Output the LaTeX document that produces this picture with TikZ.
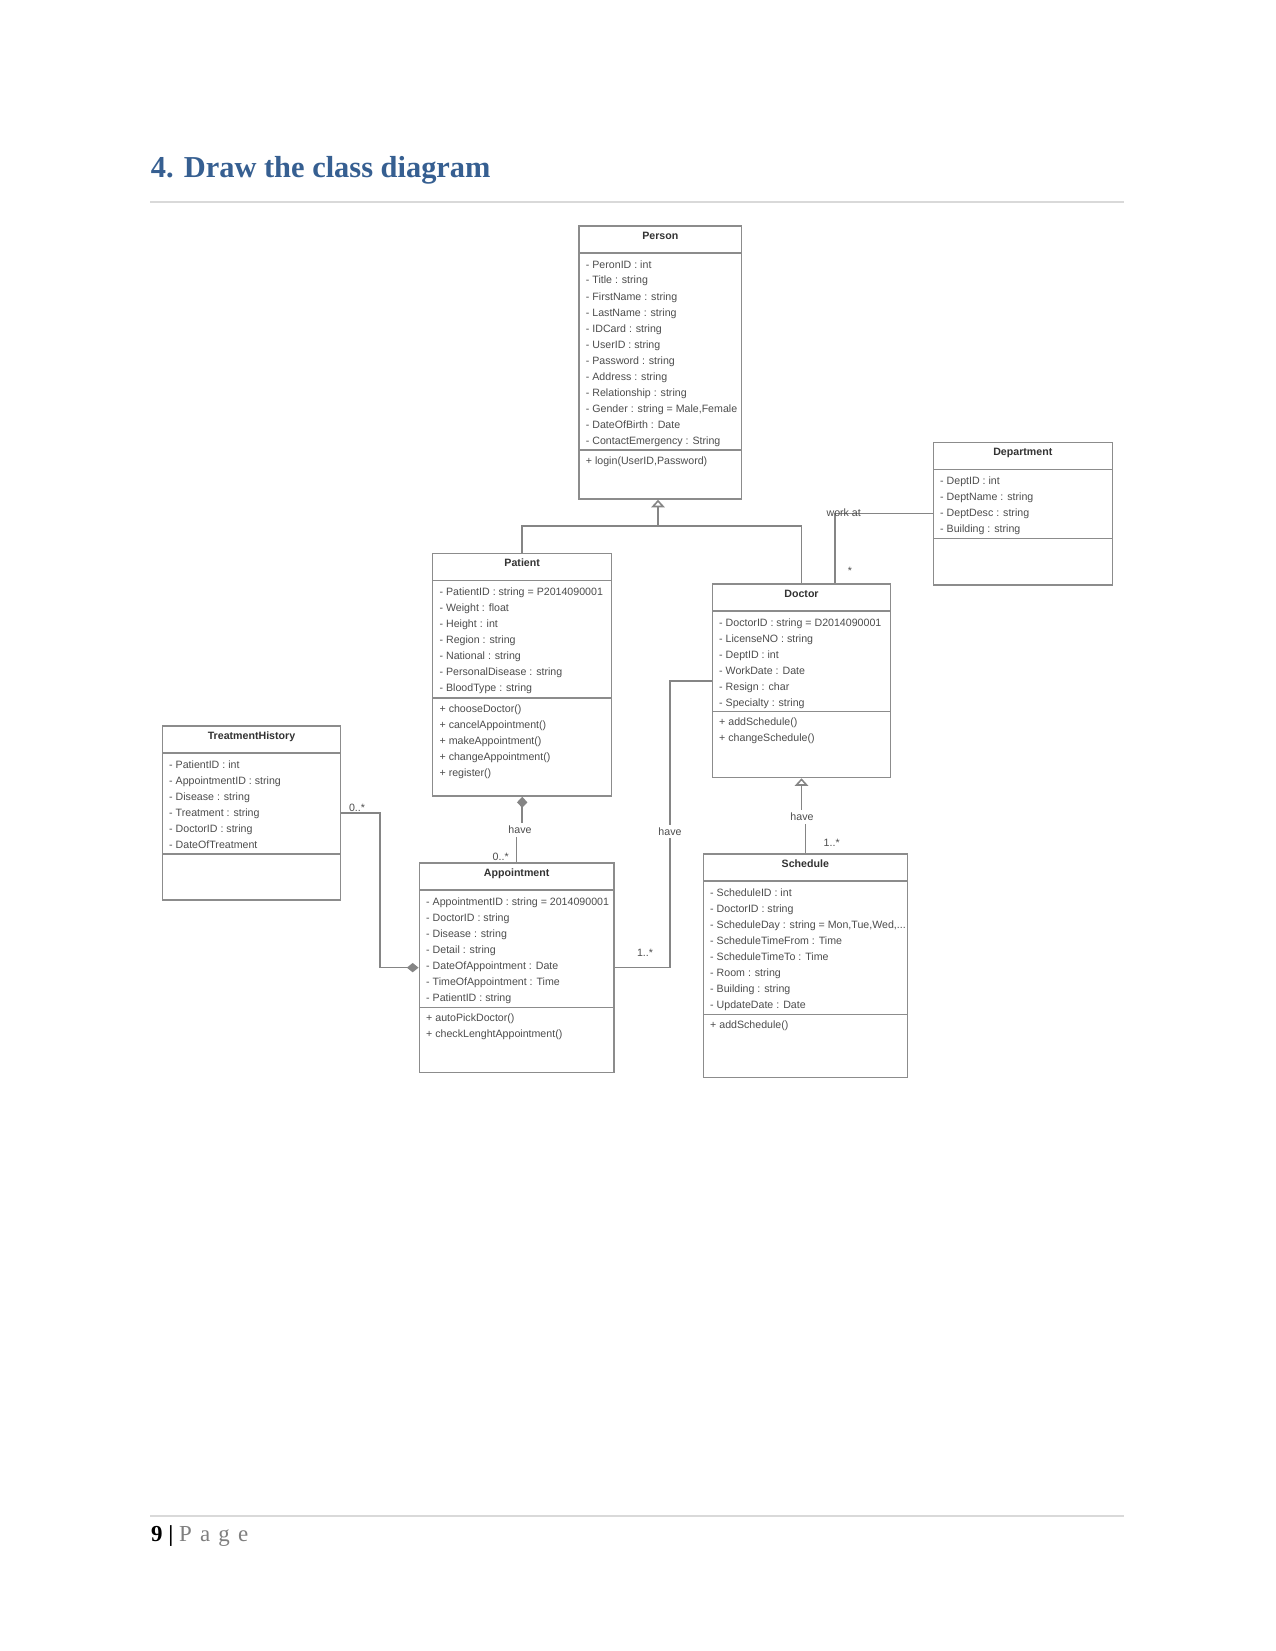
\documentclass[tikz,border=0pt]{standalone}
\usepackage{fontspec}
\setmainfont{Liberation Serif}
\newfontfamily\umlfont{Liberation Sans}
\usetikzlibrary{arrows.meta,fit}
\definecolor{titleblue}{HTML}{365F91}
\definecolor{boxcol}{HTML}{8C8C8C}
\definecolor{conncol}{HTML}{858585}
\definecolor{txtcol}{HTML}{4D4D4D}
\definecolor{headcol}{HTML}{333333}
\definecolor{rulecol}{HTML}{D9D9D9}
\definecolor{pagegray}{HTML}{7F7F7F}
\newcommand{\mydots}{...}
\tikzset{
  classbox/.style={draw=boxcol, line width=0.75pt, inner sep=0pt, fill=white},
  cline/.style={draw=boxcol, line width=0.75pt},
  ctitle/.style={anchor=base, inner sep=0pt, font=\umlfont\bfseries\fontsize{5.1}{6}\selectfont, text=headcol},
  attr/.style={anchor=base west, inner sep=0pt, font=\umlfont\fontsize{5.1}{6}\selectfont, text=txtcol},
  conn/.style={draw=conncol, line width=0.75pt},
  lbl/.style={inner sep=0.6pt, font=\umlfont\fontsize{5.1}{6}\selectfont, text=txtcol},
  onlbl/.style={lbl, fill=white, inner sep=1.2pt},
  gen/.style={-{Triangle[open, length=3.6pt, width=6.4pt]}},
  compend/.style={-{Diamond[length=5.6pt, width=4.5pt]}},
  compstart/.style={{Diamond[length=5.3pt, width=5pt]}-},
}
% name, x1, y1, x2, y2, ysep, title, attributes
\newcommand{\umlclass}[8]{%
  \node[classbox, fit={(#2,#3) (#4,#5)}] (#1) {};
  \draw[cline] (#2,#3+27) -- (#4,#3+27);
  \draw[cline] (#2,#6) -- (#4,#6);
  \node[ctitle] (#1-title) at ({(#2+#4)/2},{#3+13.5}) {#7};
  \foreach \t [count=\i] in {#8}
    \node[attr] (#1-a\i) at ({#2+6.5},{#3+42+(\i-1)*16}) {- \t};
}
% name, x1, ysep, methods
\newcommand{\umlmethods}[4]{%
  \foreach \t [count=\i] in {#4}
    \node[attr] (#1-m\i) at ({#2+6.5},{#3+14+(\i-1)*16}) {+ \t};
}
\begin{document}
\begin{tikzpicture}[x=0.48pt,y=-0.48pt]
\useasboundingbox (0,0) rectangle (1275,1651);
\fill[white] (0,0) rectangle (1275,1651);

% heading and rules
\node[anchor=base west, inner sep=0pt, font=\bfseries\fontsize{14.6}{17}\selectfont, text=titleblue] (title) at (150.5,177.3) {4. Draw the class diagram};
\draw[rulecol, line width=0.7pt] (150,202) -- (1124,202);
\draw[rulecol, line width=0.7pt] (150,1516) -- (1124,1516);
\node[anchor=base west, inner sep=0pt, font=\fontsize{11}{13}\selectfont] (footer) at (150.7,1541.7) {\textbf{9 |} \textcolor{pagegray}{P\hspace{1.2pt} a\hspace{1.2pt} g\hspace{1.2pt} e}};

% classes
\umlclass{person}{579}{226}{741.7}{499}{450}{Person}{PeronID : int, Title : string, FirstName : string, LastName : string, IDCard : string, UserID : string, Password : string, Address : string, Relationship : string, {Gender : string = Male,Female}, DateOfBirth : Date, ContactEmergency : String}
\umlmethods{person}{579}{450}{{login(UserID,Password)}}

\umlclass{patient}{432.7}{553.3}{611.7}{796}{698}{Patient}{PatientID : string = P2014090001, Weight : float, Height : int, Region : string, National : string, PersonalDisease : string, BloodType : string}
\umlmethods{patient}{432.7}{698}{chooseDoctor(), cancelAppointment(), makeAppointment(), changeAppointment(), register()}

\umlclass{doctor}{712.3}{584}{890.7}{777.5}{711.7}{Doctor}{DoctorID : string = D2014090001, LicenseNO : string, DeptID : int, WorkDate : Date, Resign : char, Specialty : string}
\umlmethods{doctor}{712.3}{711.7}{addSchedule(), changeSchedule()}

\umlclass{department}{933.3}{442.3}{1112.3}{585}{538.3}{Department}{DeptID : int, DeptName : string, DeptDesc : string, Building : string}

\umlclass{th}{162.3}{726}{340.7}{900}{854}{TreatmentHistory}{PatientID : int, AppointmentID : string, Disease : string, Treatment : string, DoctorID : string, DateOfTreatment}

\umlclass{appointment}{419.3}{863}{614}{1072.3}{1007.7}{Appointment}{AppointmentID : string = 2014090001, DoctorID : string, Disease : string, Detail : string, DateOfAppointment : Date, TimeOfAppointment : Time, PatientID : string}
\umlmethods{appointment}{419.3}{1007.7}{autoPickDoctor(), checkLenghtAppointment()}

\umlclass{schedule}{703.3}{854}{907.3}{1077.3}{1014.3}{Schedule}{ScheduleID : int, DoctorID : string, {ScheduleDay : string = Mon,Tue,Wed,\mydots}, ScheduleTimeFrom : Time, ScheduleTimeTo : Time, Room : string, Building : string, UpdateDate : Date}
\umlmethods{schedule}{703.3}{1014.3}{addSchedule()}

% generalization Patient/Doctor -> Person
\coordinate (inhjoin) at (658,526);
\draw[conn] (patient.north) |- (inhjoin) -| (doctor.north);
\draw[conn, gen] (inhjoin) -- (inhjoin |- person.south);

% Doctor work at Department
\draw[conn] (department.west) -| (835,0 |- doctor.north);
\node[lbl] (workat) at (843.7,513) {work at};
\node[lbl] (mstar) at (850,571) {*};

% Patient have Appointment
\node[onlbl] (have1) at (520,830) {have};
\draw[conn, compstart] (patient.south) -- (patient.south |- have1.north);
\draw[conn] (appointment.north |- have1.south) -- (appointment.north);
\node[lbl] (m01) at (500.7,857) {0..*};

% Appointment have Doctor
\node[onlbl] (have2) at (670,831.5) {have};
\draw[conn] (appointment.east) -| (have2.south);
\draw[conn] (have2.north) |- (doctor.west);
\node[lbl] (m02) at (645,953) {1..*};

% TreatmentHistory - Appointment
\draw[conn, compend] (th.east) -| (380,890) |- (appointment.west);
\node[lbl] (m03) at (357,807.5) {0..*};

% Schedule have Doctor
\node[onlbl] (have3) at (802,816.7) {have};
\draw[conn] (schedule.north) -- (schedule.north |- have3.south);
\draw[conn, gen] (doctor.south |- have3.north) -- (doctor.south);
\node[lbl] (m04) at (831.7,842.7) {1..*};
\end{tikzpicture}
\end{document}
